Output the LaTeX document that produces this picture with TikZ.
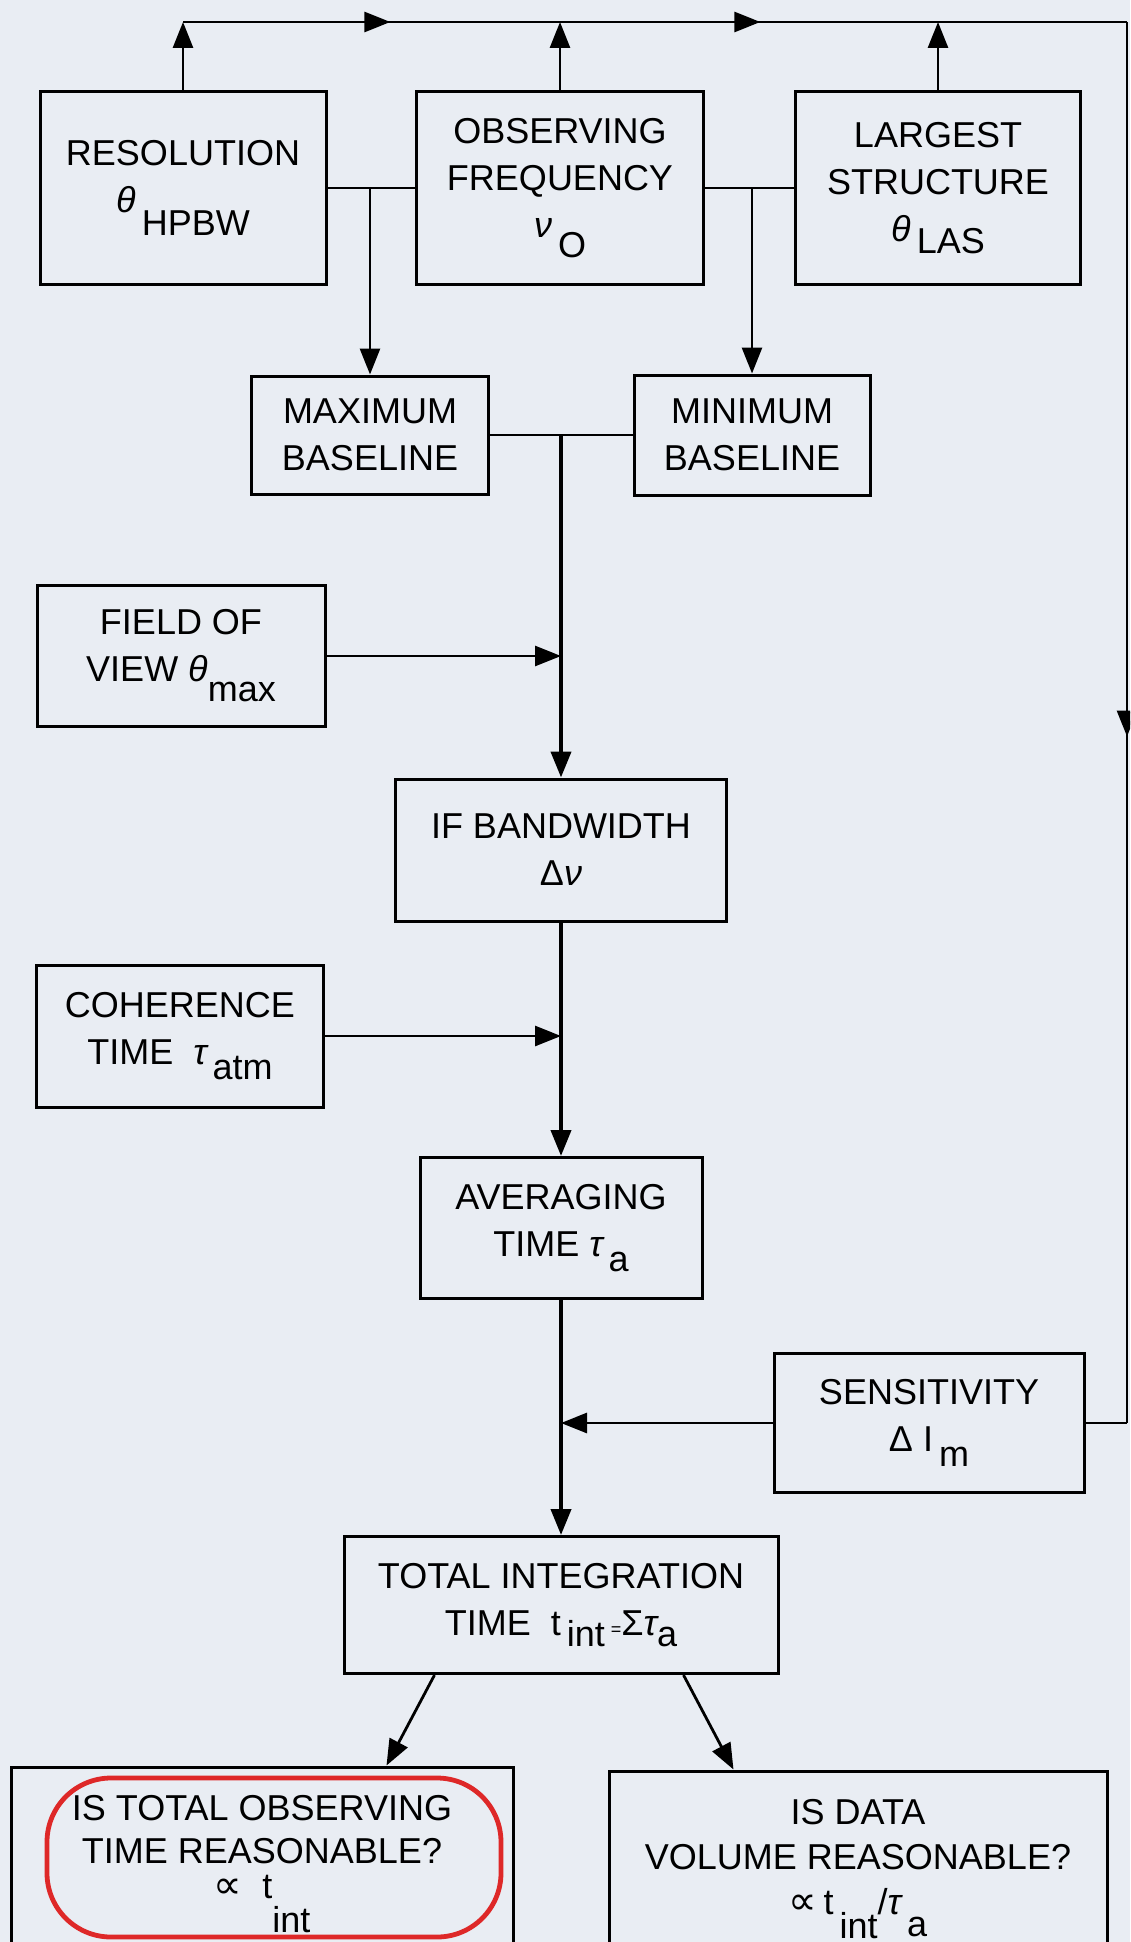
\documentclass[tikz,border=0pt]{standalone}
\usepackage{fontspec}
\setmainfont{Liberation Sans}
\newfontfamily\symfont{DejaVu Sans}
\usetikzlibrary{arrows.meta}
\usetikzlibrary{decorations.markings}
\definecolor{paper}{RGB}{233,237,243}
\definecolor{marker}{RGB}{222,40,40}
\tikzstyle{chart}=[x=0.5pt, y=-0.5pt, font=\fontsize{18}{23.5}\selectfont]
\tikzstyle{box}=[rectangle, draw, line width=1.5pt, align=center, inner sep=2pt]
\tikzstyle{edge}=[-{Triangle[length=13pt, width=10pt]}, line width=1.4pt]
\tikzstyle{spine}=[edge, line width=2pt]
\tikzstyle{pipe}=[-, line width=1.4pt]
\tikzstyle{loop}=[draw=marker, line width=2.4pt, rounded corners=32pt]
\tikzset{midarrow/.style={postaction={decorate}, decoration={markings, mark=at position #1 with {\arrow{Triangle[length=13pt, width=10pt]}}}}}
\newcommand{\gr}[1]{{\itshape #1}}
\newcommand{\low}[2][0.5em]{\raisebox{-#1}{#2}}
\newcommand{\prop}{{\symfont\fontsize{20}{20}\selectfont ∝}}
\begin{document}
\begin{tikzpicture}[chart]
	\fill[paper] (0,0) rectangle (1130,1942);
	\clip (0,0) rectangle (1130,1942);
	
	%The top row
	\node[box, minimum width=143pt, minimum height=96pt] (res) at (183,188) {RESOLUTION\\\gr{θ}\,\low[0.65em]{HPBW}};
	\node[box, minimum width=143.5pt, minimum height=96pt] (freq) at (560,188) {OBSERVING\\FREQUENCY\\\gr{ν}\,\low[0.55em]{O}};
	\node[box, minimum width=142.5pt, minimum height=96pt] (las) at (938,188) {LARGEST\\STRUCTURE\\\gr{θ}\,\low[0.35em]{LAS}};
	
	%The baselines
	\node[box, minimum width=118.5pt, minimum height=59pt] (maxb) at (370,435) {MAXIMUM\\BASELINE};
	\node[box, minimum width=118pt, minimum height=60pt] (minb) at (752,435) {MINIMUM\\BASELINE};
	
	%The spine
	\node[box, minimum width=144pt, minimum height=70.5pt] (fov) at (181,656) {FIELD OF\\VIEW \gr{θ}\low[0.55em]{max}};
	\node[box, minimum width=165.5pt, minimum height=71pt] (ifbw) at (561,850) {IF BANDWIDTH\\Δ\gr{ν}};
	\node[box, minimum width=143.5pt, minimum height=71pt] (coh) at (180,1036) {COHERENCE\\TIME\ \ \gr{τ}\,\low[0.4em]{atm}};
	\node[box, minimum width=141pt, minimum height=70.5pt] (avg) at (561,1228) {AVERAGING\\TIME \gr{τ}\,\low[0.4em]{a}};
	\node[box, minimum width=155pt, minimum height=69.5pt] (sens) at (929,1423) {SENSITIVITY\\Δ I\,\low[0.4em]{m}};
	\node[box, minimum width=217pt, minimum height=68.5pt] (tot) at (561,1605) {TOTAL INTEGRATION\\TIME\ \ t\,\low[0.3em]{int}\,{\small =}Σ\gr{τ}\low[0.3em]{a}};
	
	%The questions
	\node[box, minimum width=251pt, minimum height=97pt, font=\fontsize{18}{21.5}\selectfont] (obs) at (262,1864) {IS TOTAL OBSERVING\\TIME REASONABLE?\\[-4pt]\prop\ \ t\low[0.95em]{int}};
	\node[box, minimum width=249pt, minimum height=98pt, font=\fontsize{18}{22.5}\selectfont] (vol) at (858,1869) {IS DATA\\VOLUME REASONABLE?\\\prop\,t\,\low[0.65em]{int}/\gr{τ}\,\low[0.6em]{a}};
	\draw[loop] (47,1778) rectangle (501,1937);
	
	%The feedback loop
	\coordinate (top) at (0,22);
	\coordinate (corner) at (1127,22);
	\coordinate (back) at (1127,1423);
	\draw[edge] (res.north) -- (res.north |- top) coordinate (resTop);
	\draw[edge] (freq.north) -- (freq.north |- top) coordinate (freqTop);
	\draw[edge] (las.north) -- (las.north |- top) coordinate (lasTop);
	\draw[pipe, midarrow=0.55] (resTop) -- (freqTop);
	\draw[pipe, midarrow=0.53] (freqTop) -- (lasTop);
	\draw[pipe] (lasTop) -- (corner);
	\draw[pipe, midarrow=0.51] (corner) -- (back);
	\draw[pipe] (back) -- (sens.east);
	
	%The junctions
	\draw[pipe] (res.east) -- (freq.west);
	\draw[edge] (res.east -| maxb.north) -- (maxb.north);
	\draw[pipe] (freq.east) -- (las.west);
	\draw[edge] (freq.east -| minb.north) -- (minb.north);
	\draw[pipe] (maxb.east) -- (minb.west);
	\draw[spine] (maxb.east -| ifbw.north) -- (ifbw.north);
	\draw[edge] (fov.east) -- (fov.east -| ifbw.north);
	\draw[spine] (ifbw.south) -- (avg.north);
	\draw[edge] (coh.east) -- (coh.east -| avg.north);
	\draw[spine] (avg.south) -- (tot.north);
	\draw[edge] (sens.west) -- (sens.west -| tot.north);
	\draw[edge] ([xshift=46pt]tot.south west) -- ([xshift=-64pt]obs.north east);
	\draw[edge] ([xshift=-48pt]tot.south east) -- ([xshift=63pt]vol.north west);
\end{tikzpicture}
\end{document}
